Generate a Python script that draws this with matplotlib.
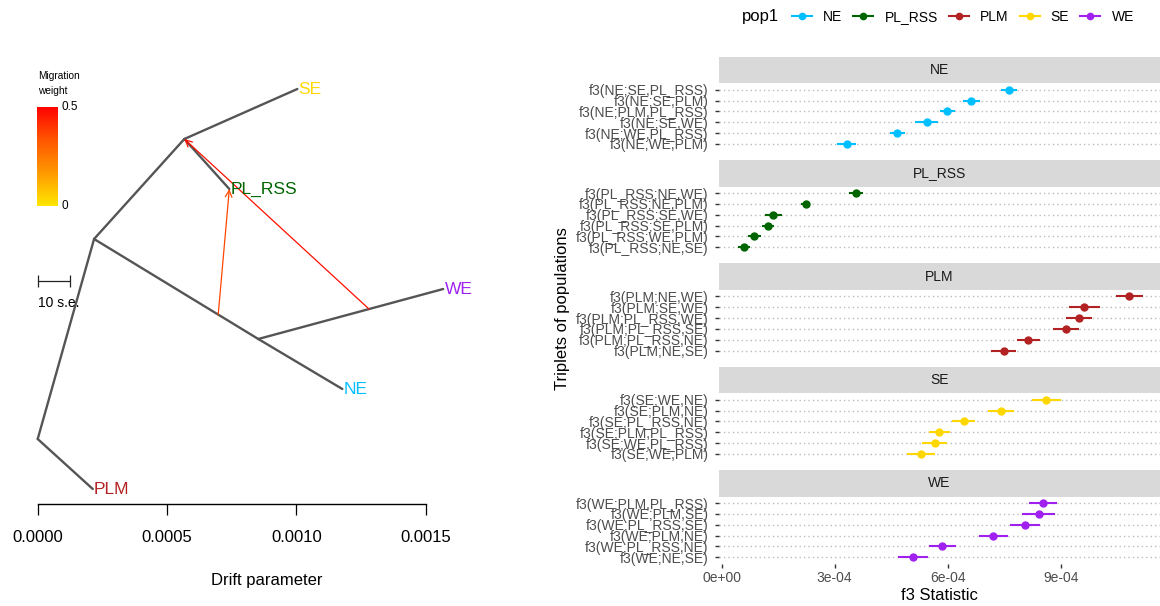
import numpy as np
import matplotlib
matplotlib.use("Agg")
import matplotlib.pyplot as plt
from matplotlib.colors import LinearSegmentedColormap
from matplotlib.lines import Line2D

plt.rcParams['font.family'] = ['Liberation Sans', 'DejaVu Sans']

W, H = 1160, 606

pops = ["NE", "PL_RSS", "PLM", "SE", "WE"]
pop_colors = ["#00BFFF", "#006400", "#B22222", "#FFD700", "#A020F0"]

# --- treemix tree (drift, vertical position) ---
node_names = ["root", "n1", "n2", "n3", "PLM", "SE", "PL_RSS", "NE", "WE"]
node_drift = [0.0, 2.18e-4, 5.67e-4, 8.53e-4, 2.13e-4, 1.004e-3, 7.41e-4, 1.178e-3, 1.568e-3]
node_y = [0.125, 0.625, 0.875, 0.375, 0.0, 1.0, 0.75, 0.25, 0.5]
tree_edges = [("root", "PLM"), ("root", "n1"), ("n1", "n2"), ("n1", "n3"),
              ("n2", "SE"), ("n2", "PL_RSS"), ("n3", "NE"), ("n3", "WE")]
# migration edges: start on a branch (parent, child, fraction), end node, weight
mig_branch = [("n1", "n3", 0.756), ("n3", "WE", 0.599)]
mig_target = ["PL_RSS", "n2"]
mig_weight = [0.36, 0.47]
drift_ticks = [0.0, 0.0005, 0.0010, 0.0015]
drift_tick_labels = ["0.0000", "0.0005", "0.0010", "0.0015"]

# --- f3 statistics per target population ---
ne_labels = ["f3(NE;SE,PL_RSS)", "f3(NE;SE,PLM)", "f3(NE;PLM,PL_RSS)", "f3(NE;SE,WE)", "f3(NE;WE,PL_RSS)", "f3(NE;WE,PLM)"]
ne_f3 = [7.63e-4, 6.63e-4, 5.99e-4, 5.44e-4, 4.66e-4, 3.32e-4]
ne_se = [2.1e-5, 2.3e-5, 1.9e-5, 3.1e-5, 2.0e-5, 2.5e-5]

plrss_labels = ["f3(PL_RSS;NE,WE)", "f3(PL_RSS;NE,PLM)", "f3(PL_RSS;SE,WE)", "f3(PL_RSS;SE,PLM)", "f3(PL_RSS;WE,PLM)", "f3(PL_RSS;NE,SE)"]
plrss_f3 = [3.56e-4, 2.23e-4, 1.37e-4, 1.22e-4, 8.7e-5, 5.8e-5]
plrss_se = [1.9e-5, 1.2e-5, 2.3e-5, 1.6e-5, 1.7e-5, 1.6e-5]

plm_labels = ["f3(PLM;NE,WE)", "f3(PLM;SE,WE)", "f3(PLM;PL_RSS,WE)", "f3(PLM;PL_RSS,SE)", "f3(PLM;PL_RSS,NE)", "f3(PLM;NE,SE)"]
plm_f3 = [1.082e-3, 9.63e-4, 9.49e-4, 9.14e-4, 8.14e-4, 7.49e-4]
plm_se = [3.6e-5, 4.1e-5, 3.5e-5, 3.4e-5, 3.1e-5, 3.3e-5]

se_labels = ["f3(SE;WE,NE)", "f3(SE;PLM,NE)", "f3(SE;PL_RSS,NE)", "f3(SE;PLM,PL_RSS)", "f3(SE;WE,PL_RSS)", "f3(SE;WE,PLM)"]
se_f3 = [8.62e-4, 7.42e-4, 6.42e-4, 5.78e-4, 5.65e-4, 5.29e-4]
se_se = [3.8e-5, 3.4e-5, 3.1e-5, 2.9e-5, 3.3e-5, 3.7e-5]

we_labels = ["f3(WE;PLM,PL_RSS)", "f3(WE;PLM,SE)", "f3(WE;PL_RSS,SE)", "f3(WE;PLM,NE)", "f3(WE;PL_RSS,NE)", "f3(WE;NE,SE)"]
we_f3 = [8.54e-4, 8.41e-4, 8.05e-4, 7.21e-4, 5.86e-4, 5.08e-4]
we_se = [3.7e-5, 4.3e-5, 4.0e-5, 3.9e-5, 3.5e-5, 4.0e-5]

f3_ticks = [0.0, 3e-4, 6e-4, 9e-4]
f3_tick_labels = ["0e+00", "3e-04", "6e-04", "9e-04"]


def px(x, y, w, h):
    # pixel box (from top-left) -> figure fraction rect
    return [x / W, 1 - (y + h) / H, w / W, h / H]


fig = plt.figure(figsize=(W / 100, H / 100), dpi=100)

# ================= left: tree =================
ax = fig.add_axes(px(0, 20, 500, 484.3))
x0, ppu = 37.7, 258600.0
ax.set_xlim(-x0 / ppu, (500 - x0) / ppu)
ax.set_ylim((489 - 504.3) / 400, (489 - 20) / 400)

pos = {n: (d, y) for n, d, y in zip(node_names, node_drift, node_y)}
for a, b in tree_edges:
    ax.plot([pos[a][0], pos[b][0]], [pos[a][1], pos[b][1]], color="#555555", lw=1.7,
            solid_capstyle="round", zorder=2)

mig_cmap = LinearSegmentedColormap.from_list("mig", ["#FFE600", "#FF9900", "#FF5500", "#FF0000"])
for (a, b, f), tgt, wgt in zip(mig_branch, mig_target, mig_weight):
    sx = pos[a][0] + f * (pos[b][0] - pos[a][0])
    sy = pos[a][1] + f * (pos[b][1] - pos[a][1])
    ax.annotate("", xy=pos[tgt], xytext=(sx, sy),
                arrowprops=dict(arrowstyle="->", color=mig_cmap(wgt / 0.5), lw=0.9,
                                shrinkA=0, shrinkB=0, mutation_scale=12), zorder=3)

for name, col in zip(pops, pop_colors):
    d, y = pos[name]
    ax.text(d + 5e-6, y, name, color=col, fontsize=12.5, ha="left", va="center")

for s in ["top", "right", "left"]:
    ax.spines[s].set_visible(False)
ax.spines["bottom"].set_bounds(drift_ticks[0], drift_ticks[-1])
ax.spines["bottom"].set_linewidth(1.0)
ax.set_yticks([])
ax.set_xticks(drift_ticks)
ax.set_xticklabels(drift_tick_labels)
ax.tick_params(axis="x", length=7.7, width=0.9, labelsize=12, pad=11)
fig.text(266.7 / W, 1 - 580 / H, "Drift parameter", fontsize=12, ha="center", va="center")

# scale bar
sb_y = (489 - 280.7) / 400
ax.errorbar([6.3e-5], [sb_y], xerr=[6.3e-5], color="#222222", lw=0.9, capsize=4, capthick=0.9)
ax.text(0.0, (489 - 302.5) / 400, "10 s.e.", fontsize=10, ha="left", va="center")

# migration weight colour bar
cax = fig.add_axes(px(37.3, 106.7, 21, 99.3))
cax.imshow(np.linspace(1, 0, 200).reshape(-1, 1), aspect="auto", cmap=mig_cmap,
           extent=[0, 1, 0, 0.5])
cax.set_axis_off()
fig.text(38 / W, 1 - 76 / H, "Migration", fontsize=7.3, ha="left", va="center")
fig.text(38 / W, 1 - 91 / H, "weight", fontsize=7.3, ha="left", va="center")
fig.text(61 / W, 1 - 107.5 / H, "0.5", fontsize=8.5, ha="left", va="center")
fig.text(61 / W, 1 - 206 / H, "0", fontsize=8.5, ha="left", va="center")

# ================= right: f3 facets =================
facet_labels = [ne_labels, plrss_labels, plm_labels, se_labels, we_labels]
facet_f3 = [ne_f3, plrss_f3, plm_f3, se_f3, we_f3]
facet_se = [ne_se, plrss_se, plm_se, se_se, we_se]

left, right = 719.0, 1160.0
top, strip_h, panel_h, gap = 56.7, 26.7, 67.0, 9.6
x_lo = (left - 721.7) / 376.7e3
x_hi = (right - 721.7) / 376.7e3

for i, (pop, col) in enumerate(zip(pops, pop_colors)):
    y_top = top + i * (strip_h + panel_h + gap)
    sax = fig.add_axes(px(left, y_top, right - left, strip_h))
    sax.set_facecolor("#D9D9D9")
    sax.set_xticks([])
    sax.set_yticks([])
    for s in sax.spines.values():
        s.set_visible(False)
    sax.text(0.5, 0.5, pop, transform=sax.transAxes, ha="center", va="center",
             fontsize=10, color="#1A1A1A")

    pax = fig.add_axes(px(left, y_top + strip_h, right - left, panel_h))
    rows = np.arange(len(facet_labels[i]))
    pax.set_xlim(x_lo, x_hi)
    pax.set_ylim(rows[-1] + 0.6, rows[0] - 0.6)
    for r in rows:
        pax.axhline(r, color="#BBBBBB", lw=1.0, linestyle=(0, (1, 2.2)), zorder=1)
    pax.errorbar(facet_f3[i], rows, xerr=facet_se[i], fmt="o", color=col, ms=5,
                 elinewidth=1.5, capsize=0, zorder=3)
    for s in pax.spines.values():
        s.set_visible(False)
    pax.set_yticks(rows)
    pax.set_yticklabels(facet_labels[i])
    pax.tick_params(axis="y", length=3, width=1.0, color="#333333", labelsize=10,
                    labelcolor="#4D4D4D", pad=4.5)
    if i == len(pops) - 1:
        pax.set_xticks(f3_ticks)
        pax.set_xticklabels(f3_tick_labels)
        pax.tick_params(axis="x", length=3, width=1.0, color="#333333", labelsize=10,
                        labelcolor="#4D4D4D", pad=2.5)
    else:
        pax.set_xticks([])

fig.text((left + right) / 2 / W, 1 - 595 / H, "f3 Statistic", fontsize=12, ha="center", va="center")
fig.text(563 / W, 1 - 309 / H, "Triplets of populations", fontsize=12, rotation=90,
         ha="center", va="center")

# legend
handles = [Line2D([0], [0], color=c, marker="o", ms=4.5, lw=1.5) for c in pop_colors]
fig.text(742 / W, 1 - 17 / H, "pop1", fontsize=12, ha="left", va="center")
fig.legend(handles, pops, ncol=5, loc="center left", bbox_to_anchor=(792 / W, 1 - 17 / H),
           frameon=False, fontsize=10, handlelength=1.44, handletextpad=0.8,
           columnspacing=0.8, borderpad=0, borderaxespad=0)

fig.savefig("out.png", dpi=100)
